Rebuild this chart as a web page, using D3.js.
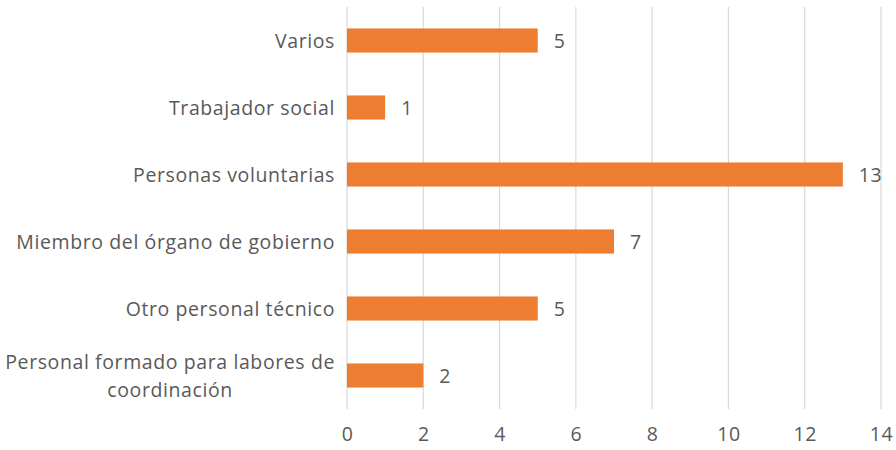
<!DOCTYPE html>
<html><head><meta charset="utf-8">
<script src="https://cdn.jsdelivr.net/npm/d3@7"></script>
<style>body{margin:0;background:#fff}svg{display:block}text{font-family:"Open Sans",sans-serif;fill:#595959}</style>
</head><body>
<svg id="c" width="896" height="450"></svg>
<script>
const categories = ["Varios","Trabajador social","Personas voluntarias","Miembro del órgano de gobierno","Otro personal técnico","Personal formado para labores de coordinación"];
const values = [5,1,13,7,5,2];
const xTicks = [0,2,4,6,8,10,12,14];

const svg = d3.select("#c");
const margin = {left:347, right:15, top:7, bottom:41};
const W = 896, H = 450;
const FS = 19.5, LS = "0.6px";
const x = d3.scaleLinear().domain([0,14]).range([margin.left, W - margin.right]);
const y = d3.scaleBand().domain(categories).range([margin.top, H - margin.bottom]).paddingInner(0.64).paddingOuter(0.32);

// gridlines
svg.append("g").selectAll("line").data(xTicks).join("line")
  .attr("x1", d => x(d)).attr("x2", d => x(d))
  .attr("y1", margin.top).attr("y2", H - margin.bottom)
  .attr("stroke", "#d9d9d9").attr("stroke-width", 1.2);

// bars
svg.append("g").selectAll("rect").data(values).join("rect")
  .attr("x", x(0)).attr("y", (d,i) => y(categories[i]))
  .attr("width", d => x(d) - x(0)).attr("height", y.bandwidth())
  .attr("fill", "#ED7D31");

// value labels
svg.append("g").selectAll("text").data(values).join("text")
  .attr("x", d => x(d) + 16).attr("y", (d,i) => y(categories[i]) + y.bandwidth()/2)
  .attr("dy", "0.36em").attr("font-size", FS).style("letter-spacing", LS).text(d => d);

// x axis
const xa = svg.append("g").attr("transform", `translate(0,${H - margin.bottom})`)
  .call(d3.axisBottom(x).tickValues(xTicks).tickSize(0).tickPadding(18));
xa.select(".domain").remove();
xa.selectAll("text").attr("font-size", FS).style("letter-spacing", LS)
  .style("font-family", '"Open Sans",sans-serif').attr("fill", "#595959");

// y axis labels (wrapped)
const lines = {"Personal formado para labores de coordinación": ["Personal formado para labores de", "coordinación"]};
const ya = svg.append("g");
categories.forEach(c => {
  const ls = lines[c] || [c];
  const cy = y(c) + y.bandwidth()/2;
  const t = ya.append("text").attr("text-anchor", "end").attr("font-size", FS).style("letter-spacing", LS);
  ls.forEach((l, j) => {
    t.append("tspan").attr("x", 335)
      .attr("y", cy + (j - (ls.length-1)/2) * 28).attr("dy", "0.36em").text(l);
  });
});
ya.selectAll("text").each(function(){
  const tsp = d3.select(this).selectAll("tspan").nodes();
  if (tsp.length > 1) {
    const w = tsp[0].getComputedTextLength();
    d3.select(tsp[1]).attr("x", 335 - w/2).attr("text-anchor","middle");
  }
});
</script>
</body></html>
